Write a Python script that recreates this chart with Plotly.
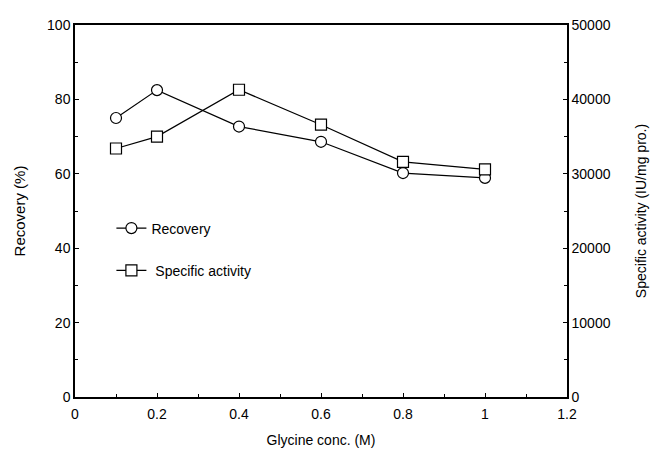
import plotly.graph_objects as go

glycine = [0.1, 0.2, 0.4, 0.6, 0.8, 1.0]
recovery = [75.0, 82.5, 72.7, 68.6, 60.2, 58.9]
specific_activity = [33400, 35000, 41300, 36600, 31600, 30600]

x_ticks = [0, 0.2, 0.4, 0.6, 0.8, 1.0, 1.2]
x_labels = ["0", "0.2", "0.4", "0.6", "0.8", "1", "1.2"]
y_ticks = [0, 20, 40, 60, 80, 100]
y2_ticks = [0, 10000, 20000, 30000, 40000, 50000]
y2_labels = ["0", "10000", "20000", "30000", "40000", "50000"]

fig = go.Figure()
fig.add_trace(go.Scatter(
    x=glycine, y=recovery, name="Recovery", mode="lines+markers",
    line=dict(color="black", width=1.2),
    marker=dict(symbol="circle", size=11, color="white", line=dict(color="black", width=1.2)),
    legendgroup="a",
))
fig.add_trace(go.Scatter(
    x=glycine, y=specific_activity, name=" Specific activity", mode="lines+markers",
    line=dict(color="black", width=1.2),
    marker=dict(symbol="square", size=11, color="white", line=dict(color="black", width=1.2)),
    yaxis="y2", legendgroup="b",
))

font = dict(family="Arial, Liberation Sans, sans-serif", size=14, color="black")
fig.update_layout(
    width=651, height=457,
    margin=dict(l=75, r=84, t=25, b=60),
    paper_bgcolor="white", plot_bgcolor="white",
    font=font,
    showlegend=True,
    legend=dict(x=0.074, y=0.496, xanchor="left", yanchor="top", itemwidth=30,
                bgcolor="rgba(0,0,0,0)", tracegroupgap=21, font=font),
    xaxis=dict(
        range=[0, 1.2], tickvals=x_ticks, ticktext=x_labels,
        ticks="inside", ticklen=4, tickcolor="black", ticklabelstandoff=3,
        minor=dict(dtick=0.1, ticks="inside", ticklen=3, tickcolor="black"),
        showline=True, linecolor="black", linewidth=1.5, mirror=True,
        showgrid=False, zeroline=False, automargin=False,
        title=dict(text="Glycine conc. (M)", standoff=15, font=dict(size=14)),
    ),
    yaxis=dict(
        range=[0, 100], tickvals=y_ticks,
        ticks="inside", ticklen=4, tickcolor="black",
        minor=dict(dtick=10, ticks="inside", ticklen=3, tickcolor="black"),
        showline=True, linecolor="black", linewidth=1.5,
        showgrid=False, zeroline=False, automargin=False,
        title=dict(text="Recovery (%)", standoff=18, font=dict(size=15)),
    ),
    yaxis2=dict(
        range=[0, 50000], tickvals=y2_ticks, ticktext=y2_labels,
        overlaying="y", side="right",
        ticks="inside", ticklen=4, tickcolor="black",
        minor=dict(dtick=5000, ticks="inside", ticklen=3, tickcolor="black"),
        showline=True, linecolor="black", linewidth=1.5,
        showgrid=False, zeroline=False, automargin=False,
        title=dict(text="Specific activity (IU/mg pro.)", standoff=27, font=dict(size=14)),
    ),
)

fig.write_html("out.html", config={"displayModeBar": False},
               post_script="document.body.style.margin='0';")
